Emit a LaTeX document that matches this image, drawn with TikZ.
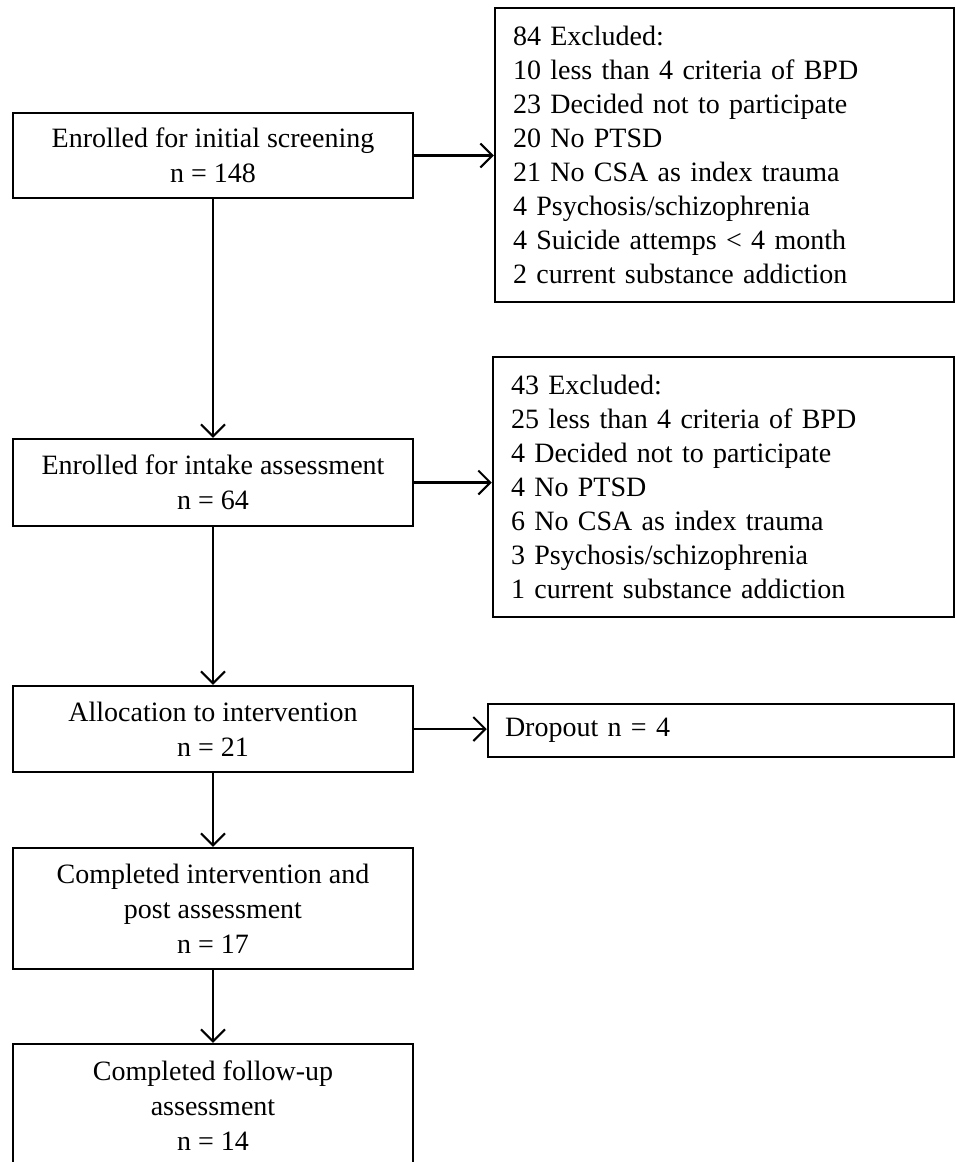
\documentclass[tikz,border=0pt]{standalone}
\usepackage{fontspec}
\setmainfont{Liberation Serif}
\usetikzlibrary{arrows.meta}
\begin{document}
\begin{tikzpicture}[x=1pt,y=-1pt,
  box/.style={draw, line width=2.5pt, align=center, font=\fontsize{28}{35}\selectfont, inner sep=0pt, minimum width=400pt},
  listbox/.style={draw, line width=2.5pt, align=left, font=\fontsize{28}{34}\selectfont, inner xsep=18pt, inner ysep=0pt},
  arr/.style={line width=2.1pt, -{Straight Barb[length=12pt,width=24pt,line width=2.1pt]}}]
\useasboundingbox (0,0) rectangle (956,1162);
\clip (0,0) rectangle (956,1162);
% main column
\node[box, minimum height=85pt] (s1) at (213,155.5) {Enrolled for initial screening\\n = 148};
\node[box, minimum height=87pt] (s2) at (213,482.5) {Enrolled for intake assessment\\n = 64};
\node[box, minimum height=86pt] (s3) at (213,729) {Allocation to intervention\\n = 21};
\node[box, minimum height=121pt] (s4) at (213,908.5) {Completed intervention and\\post assessment\\n = 17};
\node[box, minimum height=124pt] (s5) at (213,1106) {Completed follow-up\\assessment\\n = 14};
% side boxes
\node[listbox, text width=423pt, minimum height=294pt] (e1) at (724.5,155) {84 Excluded:\\10 less than 4 criteria of BPD\\23 Decided not to participate\\20 No PTSD\\21 No CSA as index trauma\\4 Psychosis/schizophrenia\\4 Suicide attemps < 4 month\\2 current substance addiction};
\node[listbox, text width=425pt, minimum height=260pt] (e2) at (723.5,487) {43 Excluded:\\25 less than 4 criteria of BPD\\4 Decided not to participate\\4 No PTSD\\6 No CSA as index trauma\\3 Psychosis/schizophrenia\\1 current substance addiction};
\node[listbox, inner xsep=17pt, text width=432pt, minimum height=53pt] (d) at (721,730.5) {Dropout n = 4};
% connectors
\draw[arr] (s1.east) -- (s1.east -| e1.west);
\draw[arr] (s2.east) -- (s2.east -| e2.west);
\draw[arr] (s3.east) -- (s3.east -| d.west);
\draw[arr] (s1.south) -- (s2.north);
\draw[arr] (s2.south) -- (s3.north);
\draw[arr] (s3.south) -- (s4.north);
\draw[arr] (s4.south) -- (s5.north);
\end{tikzpicture}
\end{document}
